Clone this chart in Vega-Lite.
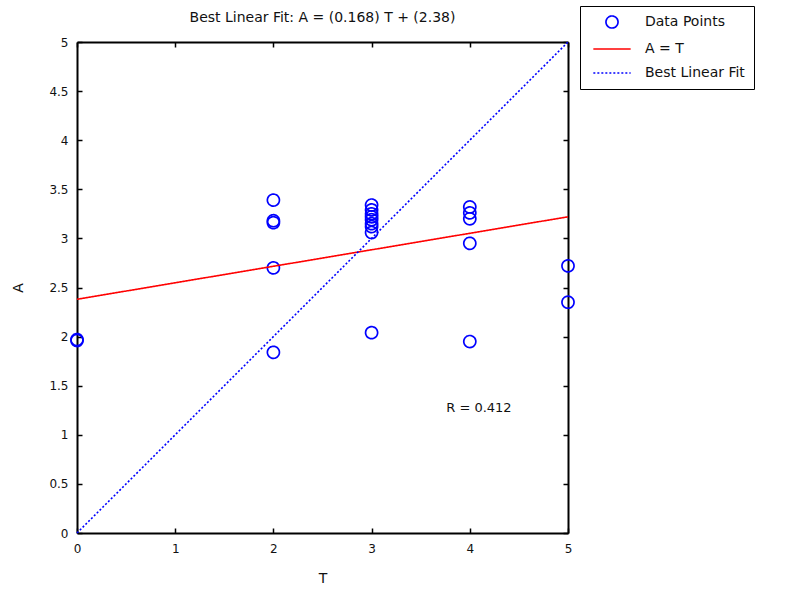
{
  "$schema": "https://vega.github.io/schema/vega-lite/v6.json",
  "autosize": {"type": "none"},
  "width": 491,
  "height": 491,
  "padding": {"left": 77, "top": 42, "right": 231, "bottom": 59},
  "background": "white",
  "config": {
    "view": {"stroke": null},
    "font": "DejaVu Sans",
    "axis": {
      "grid": false,
      "domainColor": "black",
      "domainWidth": 2,
      "tickColor": "black",
      "tickWidth": 1.5,
      "tickSize": -5,
      "labelFlush": false,
      "labelFont": "DejaVu Sans",
      "labelFontSize": 12,
      "labelColor": "#111111",
      "titleFont": "DejaVu Sans",
      "titleFontSize": 14,
      "titleFontWeight": "normal",
      "titleColor": "#111111"
    },
    "legend": {
      "labelFont": "DejaVu Sans",
      "labelFontSize": 14,
      "labelColor": "#111111"
    }
  },
  "title": {
    "text": "Best Linear Fit:  A = (0.168) T + (2.38)",
    "font": "DejaVu Sans",
    "fontSize": 14,
    "fontWeight": "normal",
    "color": "#111111",
    "anchor": "middle",
    "frame": "group",
    "offset": -19
  },
  "datasets": {
    "points": [
      {"T": 0, "A": 1.96, "series": "Data Points"},
      {"T": 0, "A": 1.97, "series": "Data Points"},
      {"T": 2, "A": 3.39, "series": "Data Points"},
      {"T": 2, "A": 3.18, "series": "Data Points"},
      {"T": 2, "A": 3.16, "series": "Data Points"},
      {"T": 2, "A": 2.70, "series": "Data Points"},
      {"T": 2, "A": 1.84, "series": "Data Points"},
      {"T": 3, "A": 3.34, "series": "Data Points"},
      {"T": 3, "A": 3.29, "series": "Data Points"},
      {"T": 3, "A": 3.25, "series": "Data Points"},
      {"T": 3, "A": 3.22, "series": "Data Points"},
      {"T": 3, "A": 3.19, "series": "Data Points"},
      {"T": 3, "A": 3.15, "series": "Data Points"},
      {"T": 3, "A": 3.12, "series": "Data Points"},
      {"T": 3, "A": 3.06, "series": "Data Points"},
      {"T": 3, "A": 2.04, "series": "Data Points"},
      {"T": 4, "A": 3.32, "series": "Data Points"},
      {"T": 4, "A": 3.26, "series": "Data Points"},
      {"T": 4, "A": 3.20, "series": "Data Points"},
      {"T": 4, "A": 2.95, "series": "Data Points"},
      {"T": 4, "A": 1.95, "series": "Data Points"},
      {"T": 5, "A": 2.72, "series": "Data Points"},
      {"T": 5, "A": 2.35, "series": "Data Points"}
    ],
    "fit": [
      {"T": 0, "A": 2.38, "series": "A = T"},
      {"T": 5, "A": 3.22, "series": "A = T"}
    ],
    "diag": [
      {"T": 0, "A": 0, "series": "Best Linear Fit"},
      {"T": 5, "A": 5, "series": "Best Linear Fit"}
    ],
    "note": [
      {"T": 3.76, "A": 1.27, "label": "R = 0.412"}
    ]
  },
  "layer": [
    {
      "data": {"name": "points"},
      "mark": {"type": "point", "filled": false, "size": 145, "strokeWidth": 1.7, "opacity": 1},
      "encoding": {
        "x": {"field": "T", "type": "quantitative", "scale": {"domain": [0, 5], "nice": false, "zero": false},
              "axis": {"orient": "bottom", "values": [0, 1, 2, 3, 4, 5], "format": "~g", "title": "T", "labelPadding": 15, "titlePadding": 17}},
        "y": {"field": "A", "type": "quantitative", "scale": {"domain": [0, 5], "nice": false, "zero": false},
              "axis": {"orient": "left", "values": [0, 0.5, 1, 1.5, 2, 2.5, 3, 3.5, 4, 4.5, 5], "format": "~g", "title": "A", "labelPadding": 14, "titlePadding": 23}},
        "color": {"field": "series", "type": "nominal",
                  "scale": {"domain": ["Data Points", "A = T", "Best Linear Fit"], "range": ["#0000ff", "#ff0000", "#0000ff"]},
                  "legend": {"title": null, "orient": "none", "legendX": 503, "legendY": -36,
                             "strokeColor": "black", "fillColor": "white", "padding": 9,
                             "rowPadding": 10, "labelOffset": 26, "symbolOffset": 16, "symbolSize": 145, "symbolStrokeWidth": 1.7,
                             "symbolOpacity": 1,
                             "encode": {"legend": {"update": {"strokeWidth": {"value": 2}}}}}},
        "shape": {"field": "series", "type": "nominal",
                  "scale": {"domain": ["Data Points", "A = T", "Best Linear Fit"], "range": ["circle", "M-3.1,0L3.1,0", "M-3.1,0L3.1,0"]},
                  "legend": {"title": null}},
        "strokeDash": {"field": "series", "type": "nominal",
                  "scale": {"domain": ["Data Points", "A = T", "Best Linear Fit"], "range": [[1, 0], [1, 0], [2, 2]]},
                  "legend": {"title": null}}
      }
    },
    {
      "data": {"name": "fit"},
      "mark": {"type": "line", "strokeWidth": 1.6},
      "encoding": {
        "x": {"field": "T", "type": "quantitative", "scale": {"domain": [0, 5], "nice": false, "zero": false}, "axis": null},
        "y": {"field": "A", "type": "quantitative", "scale": {"domain": [0, 5], "nice": false, "zero": false}, "axis": null},
        "color": {"field": "series", "type": "nominal"},
        "strokeDash": {"field": "series", "type": "nominal"}
      }
    },
    {
      "data": {"name": "diag"},
      "mark": {"type": "line", "strokeWidth": 1.6},
      "encoding": {
        "x": {"field": "T", "type": "quantitative", "scale": {"domain": [0, 5], "nice": false, "zero": false},
              "axis": {"orient": "top", "values": [0, 1, 2, 3, 4, 5], "labels": false, "title": null}},
        "y": {"field": "A", "type": "quantitative", "scale": {"domain": [0, 5], "nice": false, "zero": false},
              "axis": {"orient": "right", "values": [0, 0.5, 1, 1.5, 2, 2.5, 3, 3.5, 4, 4.5, 5], "labels": false, "title": null}},
        "color": {"field": "series", "type": "nominal"},
        "strokeDash": {"field": "series", "type": "nominal"}
      }
    },
    {
      "data": {"name": "note"},
      "mark": {"type": "text", "align": "left", "baseline": "middle", "fontSize": 13, "font": "DejaVu Sans", "color": "#111111"},
      "encoding": {
        "x": {"field": "T", "type": "quantitative", "scale": {"domain": [0, 5], "nice": false, "zero": false}, "axis": null},
        "y": {"field": "A", "type": "quantitative", "scale": {"domain": [0, 5], "nice": false, "zero": false}, "axis": null},
        "text": {"field": "label"}
      }
    }
  ],
  "resolve": {"scale": {"x": "independent", "y": "independent"}, "axis": {"x": "independent", "y": "independent"}}
}
